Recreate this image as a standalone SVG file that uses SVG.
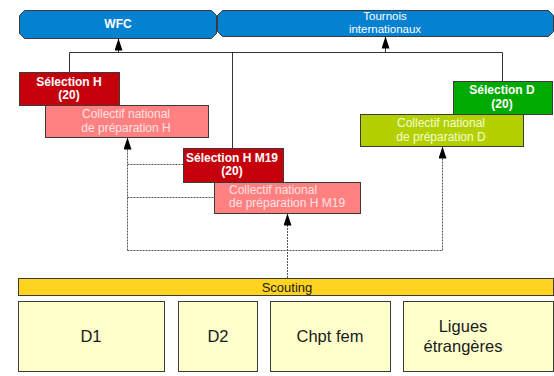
<svg xmlns="http://www.w3.org/2000/svg" width="554" height="376" viewBox="0 0 554 376">
<style>
text{font-family:"Liberation Sans",Arial,sans-serif;text-anchor:middle}
.box{stroke:#3a3a3a;stroke-width:1}
.blue{fill:#0481d0}
.red{fill:#c5000b}
.pink{fill:#ff8080}
.green{fill:#00aa00}
.lime{fill:#b4cf00}
.yel{fill:#ffd320}
.pale{fill:#ffffcc}
.wb{fill:#fff;font-weight:bold;font-size:12px}
.wn{fill:#fff;font-size:11.5px}
.pt{fill:#ffe2e2;font-size:12px}
.gt{fill:#f2ffd0;font-size:12px}
.bt{fill:#1a1a1a;font-size:16.5px}
.solid{fill:none;stroke:#333;stroke-width:1}
.dash{fill:none;stroke:#555;stroke-width:1;stroke-dasharray:2,1}
</style>
<defs>
<marker id="ah" viewBox="0 0 12 8" refX="12" refY="4" markerWidth="12" markerHeight="8" markerUnits="userSpaceOnUse" orient="auto">
<path d="M0,0 L12,4 L0,8 z" fill="#000"/>
</marker>
</defs>
<g id="connectors">
<path class="solid" d="M69.5,72 V52.5 H502.5 V81 M232.5,52.5 V148"/>
<path class="solid" d="M118.5,52.5 V38.5" marker-end="url(#ah)"/>
<path class="solid" d="M385.5,52.5 V36.5" marker-end="url(#ah)"/>
<path class="dash" d="M127.5,250.5 V137.5" marker-end="url(#ah)"/>
<path class="dash" d="M127.5,164.5 H183 M127.5,197.5 H214 M127.5,250.5 H442.5"/>
<path class="dash" d="M442.5,250.5 V146.5" marker-end="url(#ah)"/>
<path class="dash" d="M287.5,278 V213.5" marker-end="url(#ah)"/>
</g>
<g id="wfc">
<path class="box blue" d="M24.5,10.5 H211.5 L216.5,15.5 V33.5 L211.5,38.5 H24.5 L19.5,33.5 V15.5 z"/>
<text class="wb" x="118" y="28">WFC</text>
</g>
<g id="tournois">
<path class="box blue" d="M222.5,10.5 H548.5 L553.5,15.5 V31.5 L548.5,36.5 H222.5 L217.5,31.5 V15.5 z"/>
<text class="wn" x="385" y="20">Tournois</text>
<text class="wn" x="385" y="33">internationaux</text>
</g>
<g id="selection-h">
<rect class="box red" x="19.5" y="72.5" width="100" height="33"/>
<text class="wb" x="69" y="86">Sélection H</text>
<text class="wb" x="69" y="99">(20)</text>
</g>
<g id="collectif-h">
<rect class="box pink" x="45.5" y="105.5" width="163" height="32"/>
<text class="pt" x="126" y="118">Collectif national</text>
<text class="pt" x="126" y="132">de préparation H</text>
</g>
<g id="selection-d">
<rect class="box green" x="453.5" y="81.5" width="99" height="33"/>
<text class="wb" x="502" y="94">Sélection D</text>
<text class="wb" x="502" y="108">(20)</text>
</g>
<g id="collectif-d">
<rect class="box lime" x="360.5" y="114.5" width="163" height="32"/>
<text class="gt" x="441" y="127">Collectif national</text>
<text class="gt" x="441" y="141">de préparation D</text>
</g>
<g id="selection-h-m19">
<rect class="box red" x="183.5" y="148.5" width="100" height="34"/>
<text class="wb" x="232" y="162">Sélection H M19</text>
<text class="wb" x="232" y="175">(20)</text>
</g>
<g id="collectif-h-m19">
<rect class="box pink" x="214.5" y="182.5" width="146" height="31"/>
<text class="pt" x="229" y="194" style="text-anchor:start">Collectif national</text>
<text class="pt" x="229" y="207" style="text-anchor:start">de préparation H M19</text>
</g>
<g id="scouting">
<rect class="box yel" x="18.5" y="278.5" width="535" height="17"/>
<text x="287" y="292" style="font-size:13px;fill:#1a1a1a">Scouting</text>
</g>
<g id="d1">
<rect class="box pale" x="18.5" y="301.5" width="146" height="70"/>
<text class="bt" x="91" y="342">D1</text>
</g>
<g id="d2">
<rect class="box pale" x="178.5" y="301.5" width="79" height="70"/>
<text class="bt" x="218" y="342">D2</text>
</g>
<g id="chpt-fem">
<rect class="box pale" x="270.5" y="301.5" width="120" height="70"/>
<text class="bt" x="330" y="342">Chpt fem</text>
</g>
<g id="ligues">
<rect class="box pale" x="403.5" y="301.5" width="150" height="70"/>
<text class="bt" x="463" y="332">Ligues</text>
<text class="bt" x="463" y="352">étrangères</text>
</g>
</svg>
